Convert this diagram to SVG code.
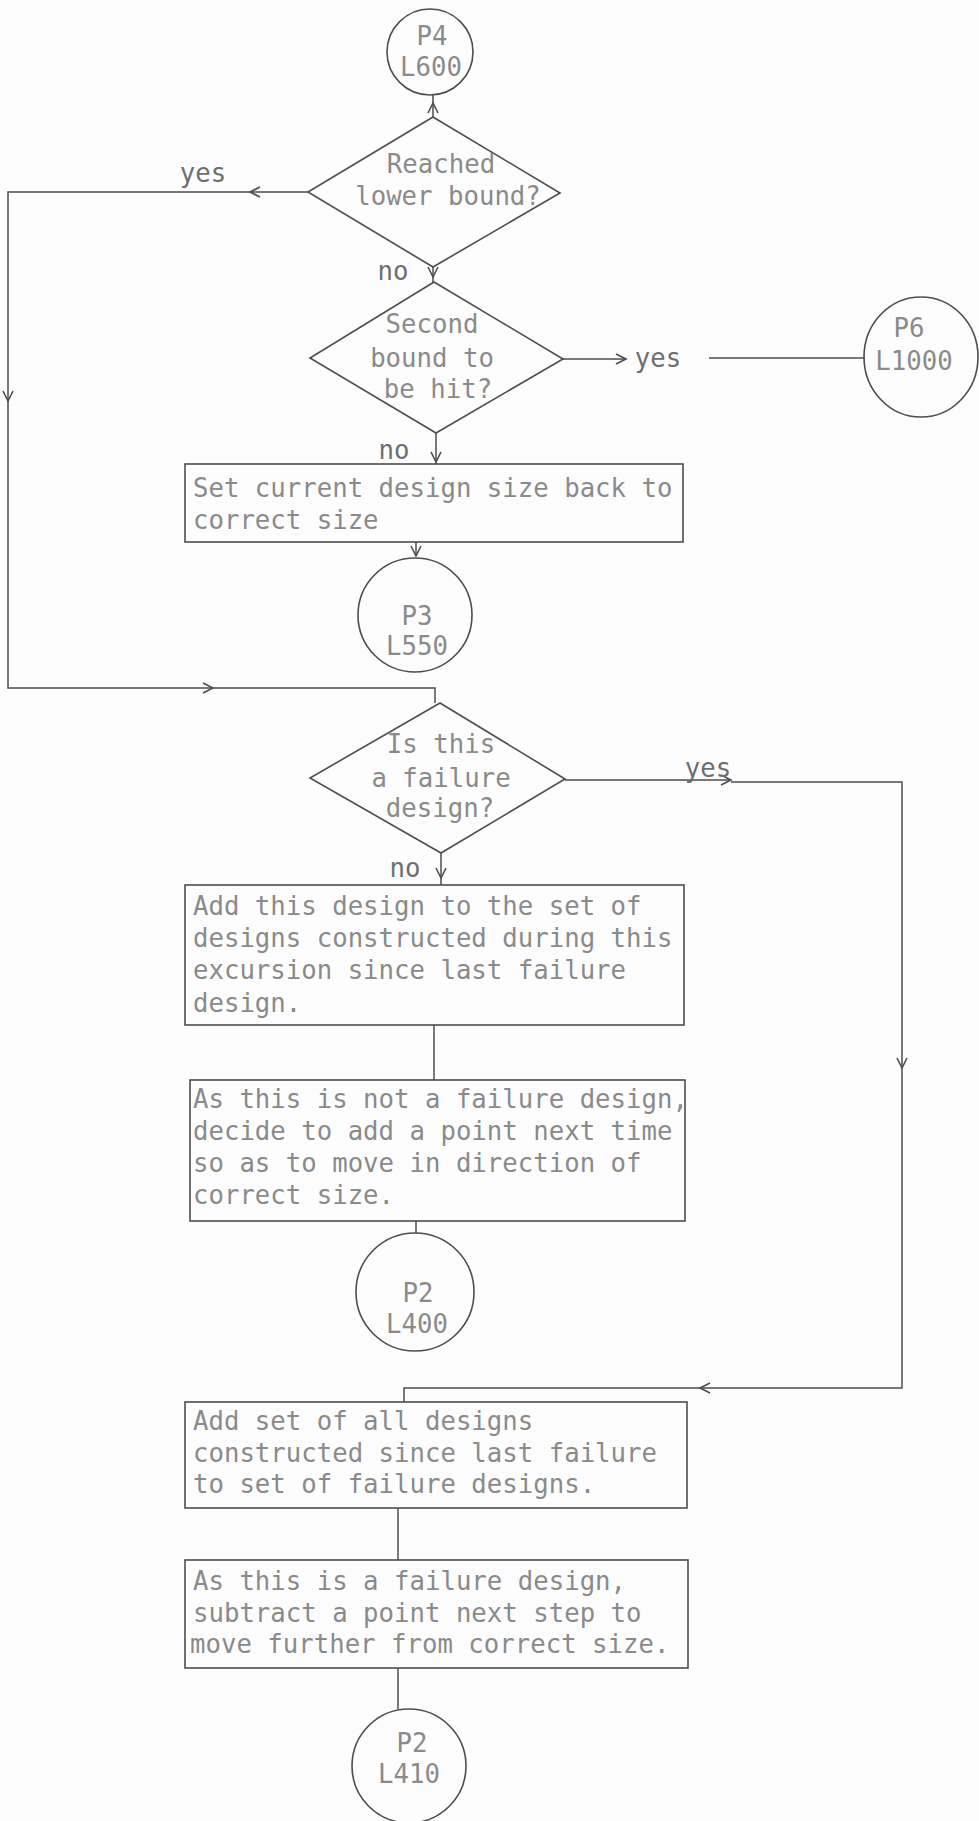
<svg xmlns="http://www.w3.org/2000/svg" width="979" height="1821" viewBox="0 0 979 1821">
<style>
.sh{fill:none;stroke:#4d4d4d;stroke-width:1.6}
.ln{fill:none;stroke:#4d4d4d;stroke-width:1.5}
.t{font-family:"DejaVu Sans Mono","Liberation Mono",monospace;font-size:25.7px;fill:#8a8a8a}
.c{text-anchor:middle}
.lb{font-family:"DejaVu Sans Mono","Liberation Mono",monospace;font-size:25.7px;fill:#6e6e6e;text-anchor:middle}
</style>
<defs>
<marker id="a" markerUnits="userSpaceOnUse" markerWidth="14" markerHeight="12" refX="11" refY="6" orient="auto"><path d="M1,1 L11,6 L1,11" fill="none" stroke="#4d4d4d" stroke-width="1.6"/></marker>
</defs>
<rect width="979" height="1821" fill="#fdfdfd"/>
<g id="connectors">
<path class="ln" d="M433,117 V103" marker-end="url(#a)"/>
<path class="ln" d="M433,103 V95"/>
<path class="ln" d="M308,192 H250" marker-end="url(#a)"/>
<path class="ln" d="M250,192 H8 V401" marker-end="url(#a)"/>
<path class="ln" d="M8,401 V688 H213" marker-end="url(#a)"/>
<path class="ln" d="M213,688 H435 V703"/>
<path class="ln" d="M433,267 V277" marker-end="url(#a)"/>
<path class="ln" d="M433,277 V282"/>
<path class="ln" d="M563,359 H626" marker-end="url(#a)"/>
<path class="ln" d="M709,358 H865"/>
<path class="ln" d="M436,433 V462" marker-end="url(#a)"/>
<path class="ln" d="M436,462 V464"/>
<path class="ln" d="M416,542 V556" marker-end="url(#a)"/>
<path class="ln" d="M565,780 H731" marker-end="url(#a)"/>
<path class="ln" d="M731,782 H902 V1068" marker-end="url(#a)"/>
<path class="ln" d="M902,1068 V1388 H700" marker-end="url(#a)"/>
<path class="ln" d="M700,1388 H404 V1402"/>
<path class="ln" d="M441,853 V878" marker-end="url(#a)"/>
<path class="ln" d="M441,878 V885"/>
<path class="ln" d="M434,1025 V1080"/>
<path class="ln" d="M416,1221 V1233"/>
<path class="ln" d="M398,1508 V1560"/>
<path class="ln" d="M398,1668 V1709"/>
</g>
<g id="labels">
<text class="lb" x="203" y="182">yes</text>
<text class="lb" x="393" y="280">no</text>
<text class="lb" x="658" y="367">yes</text>
<text class="lb" x="394" y="459">no</text>
<text class="lb" x="708" y="777">yes</text>
<text class="lb" x="405" y="877">no</text>
</g>
<g id="p4">
<circle class="sh" cx="430" cy="52" r="43"/>
<text class="t c" x="432" y="45">P4</text>
<text class="t c" x="431" y="76">L600</text>
</g>
<g id="d1">
<polygon class="sh" points="433,117 560,193 433,267 308,192"/>
<text class="t c" x="441" y="173">Reached</text>
<text class="t c" x="448" y="205">lower bound?</text>
</g>
<g id="d2">
<polygon class="sh" points="434,282 563,359 436,433 310,358"/>
<text class="t c" x="432" y="333">Second</text>
<text class="t c" x="432" y="367">bound to</text>
<text class="t c" x="438" y="398">be hit?</text>
</g>
<g id="p6">
<ellipse class="sh" cx="921" cy="357" rx="57" ry="60"/>
<text class="t c" x="909" y="337">P6</text>
<text class="t c" x="914" y="370">L1000</text>
</g>
<g id="b1">
<rect class="sh" x="185" y="464" width="498" height="78"/>
<text class="t" x="193" y="497">Set current design size back to</text>
<text class="t" x="193" y="529">correct size</text>
</g>
<g id="p3">
<circle class="sh" cx="415" cy="615" r="57"/>
<text class="t c" x="417" y="625">P3</text>
<text class="t c" x="417" y="655">L550</text>
</g>
<g id="d3">
<polygon class="sh" points="440,703 565,779 441,853 310,778"/>
<text class="t c" x="441" y="753">Is this</text>
<text class="t c" x="441" y="787">a failure</text>
<text class="t c" x="440" y="817">design?</text>
</g>
<g id="b2">
<rect class="sh" x="185" y="885" width="499" height="140"/>
<text class="t" x="193" y="915">Add this design to the set of</text>
<text class="t" x="193" y="947">designs constructed during this</text>
<text class="t" x="193" y="979">excursion since last failure</text>
<text class="t" x="193" y="1012">design.</text>
</g>
<g id="b3">
<rect class="sh" x="190" y="1080" width="495" height="141"/>
<text class="t" x="193" y="1108">As this is not a failure design,</text>
<text class="t" x="193" y="1140">decide to add a point next time</text>
<text class="t" x="193" y="1172">so as to move in direction of</text>
<text class="t" x="193" y="1204">correct size.</text>
</g>
<g id="p2a">
<circle class="sh" cx="415" cy="1292" r="59"/>
<text class="t c" x="418" y="1302">P2</text>
<text class="t c" x="417" y="1333">L400</text>
</g>
<g id="b4">
<rect class="sh" x="185" y="1402" width="502" height="106"/>
<text class="t" x="193" y="1430">Add set of all designs</text>
<text class="t" x="193" y="1462">constructed since last failure</text>
<text class="t" x="193" y="1493">to set of failure designs.</text>
</g>
<g id="b5">
<rect class="sh" x="185" y="1560" width="503" height="108"/>
<text class="t" x="193" y="1590">As this is a failure design,</text>
<text class="t" x="193" y="1622">subtract a point next step to</text>
<text class="t" x="190" y="1653">move further from correct size.</text>
</g>
<g id="p2b">
<circle class="sh" cx="409" cy="1766" r="57"/>
<text class="t c" x="412" y="1752">P2</text>
<text class="t c" x="409" y="1783">L410</text>
</g>
</svg>
